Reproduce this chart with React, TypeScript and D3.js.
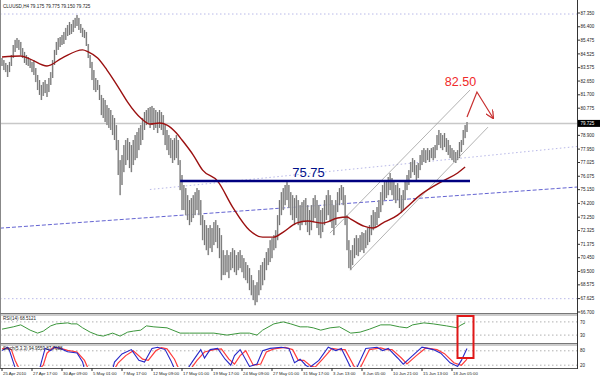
import React from 'react';
import * as d3 from 'd3';

// ---- DATA ----
const HIGHS = [
  84.24, 84.10, 83.90, 83.76, 83.97, 84.45, 85.14, 85.49, 85.62, 85.49,
  85.35, 84.93, 84.66, 84.45, 84.31, 84.10, 83.97, 84.10, 83.55, 83.07,
  82.72, 82.38, 82.58, 82.72, 82.45, 82.86, 83.27, 84.10, 84.80, 85.35,
  85.62, 85.69, 85.83, 86.04, 86.32, 86.52, 86.73, 86.59, 86.87, 87.01,
  87.21, 87.01, 86.59, 86.32, 86.18, 86.04, 85.21, 84.45, 83.97, 83.41,
  82.86, 82.72, 82.38, 81.69, 81.48, 81.34, 80.99, 80.79, 80.65, 80.30,
  80.10, 79.61, 78.58, 77.19, 77.54, 78.23, 78.58, 78.71, 78.44, 78.23,
  78.58, 78.92, 79.13, 79.41, 79.61, 80.10, 80.51, 80.65, 80.79, 80.86,
  80.93, 80.79, 80.65, 80.51, 80.65, 80.51, 80.30, 79.61, 79.27, 78.92,
  78.71, 78.58, 78.71, 78.92, 78.58, 77.19, 76.16, 75.47, 75.26, 74.77,
  74.43, 74.57, 74.77, 74.98, 75.26, 75.12, 74.43, 73.39, 73.05, 72.70,
  72.50, 72.70, 72.50, 72.91, 73.05, 72.70, 72.50, 72.01, 70.97, 70.63,
  70.97, 70.63, 70.84, 71.11, 70.97, 70.63, 70.84, 70.97, 70.63, 70.42,
  70.15, 69.94, 69.73, 69.25, 68.90, 68.55, 68.76, 69.59, 69.94, 70.15,
  70.42, 70.84, 71.11, 71.66, 71.80, 72.01, 72.35, 73.39, 74.43, 74.98,
  75.26, 75.47, 75.67, 75.47, 74.98, 74.77, 74.57, 74.77, 74.43, 74.08,
  74.29, 74.43, 74.57, 74.08, 73.74, 74.08, 74.57, 74.77, 74.43, 74.08,
  73.74, 73.88, 74.43, 74.77, 75.12, 74.77, 74.43, 74.08, 74.43, 74.98,
  75.26, 75.47, 75.33, 74.77, 73.39, 71.66, 70.97, 71.32, 71.80, 72.01,
  71.80, 72.01, 72.22, 72.15, 72.35, 72.50, 72.70, 73.39, 73.74, 73.60,
  73.95, 74.43, 74.98, 75.47, 75.67, 75.81, 76.02, 76.30, 75.95, 75.67,
  75.47, 75.60, 75.26, 74.77, 75.12, 75.81, 76.16, 76.50, 77.06, 77.33,
  77.19, 76.85, 76.99, 77.54, 77.88, 78.02, 77.88, 78.02, 77.88, 78.02,
  78.09, 78.23, 78.92, 79.27, 79.06, 78.92, 79.06, 78.71, 78.58, 78.23,
  78.02, 77.88, 77.75, 77.88, 78.44, 78.58, 79.27, 79.61, 79.82,
];
const LOWS = [
  83.69, 83.41, 83.27, 82.93, 83.27, 83.69, 84.24, 84.66, 84.93, 84.80,
  84.45, 84.24, 83.90, 83.76, 83.69, 83.55, 83.27, 83.07, 82.58, 82.03,
  81.69, 81.34, 81.62, 81.82, 81.55, 81.89, 82.38, 82.86, 83.76, 84.45,
  84.80, 85.00, 85.14, 85.21, 85.49, 85.76, 85.83, 85.90, 86.04, 86.32,
  86.45, 86.18, 85.97, 85.69, 85.62, 85.07, 84.24, 83.55, 82.72, 82.03,
  81.89, 82.03, 81.34, 80.30, 80.10, 79.82, 79.61, 79.41, 79.27, 78.92,
  78.58, 77.88, 76.16, 74.77, 75.47, 76.36, 76.85, 77.19, 76.64, 76.36,
  76.85, 77.19, 77.33, 77.88, 78.23, 78.58, 79.27, 79.61, 79.68, 79.41,
  79.61, 79.27, 79.41, 79.06, 79.41, 79.27, 78.92, 78.23, 77.88, 77.54,
  77.33, 76.99, 77.19, 77.33, 76.85, 75.12, 73.74, 73.74, 73.39, 73.05,
  72.70, 72.91, 73.19, 73.39, 73.74, 73.39, 72.70, 71.66, 71.32, 70.97,
  70.63, 71.11, 70.84, 71.32, 71.53, 71.11, 70.42, 68.90, 69.25, 69.25,
  69.45, 69.04, 69.59, 69.73, 69.45, 69.25, 69.59, 69.73, 69.45, 69.04,
  68.90, 68.69, 68.21, 67.86, 67.52, 67.17, 67.38, 67.86, 68.21, 68.55,
  68.90, 69.59, 69.94, 70.15, 70.42, 70.97, 71.11, 71.66, 72.70, 73.39,
  73.74, 74.08, 74.43, 73.88, 73.39, 73.05, 72.70, 73.19, 72.70, 72.35,
  72.70, 72.91, 72.70, 72.22, 72.01, 72.35, 72.91, 73.19, 72.50, 72.01,
  71.80, 72.22, 72.70, 73.05, 73.39, 72.91, 72.50, 72.01, 72.70, 73.60,
  74.08, 74.43, 74.08, 72.70, 70.97, 69.73, 69.59, 69.94, 70.42, 70.63,
  70.56, 70.84, 70.97, 70.77, 71.11, 71.32, 71.53, 72.01, 72.35, 72.50,
  72.70, 73.19, 73.60, 74.08, 74.43, 74.57, 74.77, 75.12, 74.77, 74.43,
  74.22, 74.43, 73.88, 73.53, 73.74, 74.43, 75.12, 75.47, 75.95, 76.36,
  76.16, 75.81, 75.95, 76.50, 76.85, 77.06, 76.99, 77.19, 77.06, 77.33,
  77.19, 77.33, 77.88, 78.23, 78.02, 77.88, 78.09, 77.75, 77.54, 77.33,
  77.19, 77.06, 76.99, 77.19, 77.33, 77.75, 78.23, 78.71, 79.13,
];

// moving average: [bar index, price]
const MA_POINTS: [number, number][] = [
  [0, 84.31], [10, 84.38], [15, 84.17], [24, 83.69], [32, 84.24], [43, 84.80],
  [46, 84.66], [51, 84.24], [56, 83.41], [63, 82.03], [67, 81.20], [74, 80.10],
  [79, 79.68], [84, 79.75], [88, 79.61], [93, 79.06], [96, 78.58], [102, 77.54],
  [107, 76.5], [115, 75.74], [123, 73.95], [132, 72.35], [139, 71.87], [145, 71.87],
  [150, 72.22], [157, 72.84], [163, 72.98], [171, 72.84], [179, 73.19], [184, 73.26],
  [186, 73.12], [193, 72.63], [198, 72.5], [203, 72.84], [211, 73.39], [216, 73.95],
  [223, 74.77], [235, 75.74], [243, 76.3], [247, 76.71],
];

const RSI_POINTS: [number, number][] = [
  [0, 48], [6, 55], [10, 61], [15, 45], [19, 36], [22, 42], [26, 58], [29, 64],
  [35, 67], [37, 64], [40, 64], [43, 52], [47, 39], [51, 30], [54, 27], [59, 36],
  [63, 27], [67, 39], [70, 42], [74, 45], [77, 58], [81, 55], [88, 52], [95, 36],
  [100, 36], [106, 36], [113, 36], [120, 30], [127, 36], [132, 36], [136, 30],
  [139, 45], [145, 64], [150, 70], [154, 64], [159, 55], [163, 55], [166, 52],
  [170, 45], [175, 52], [180, 55], [186, 36], [191, 39], [196, 48], [202, 61],
  [207, 61], [212, 55], [216, 52], [219, 61], [225, 67], [230, 64], [237, 58],
  [243, 52], [244, 58], [247, 67],
];

const STOCH_K: [number, number][] = [
  [0, 81], [3, 95], [4, 81], [6, 33], [7, 10], [8, 2], [20, 2], [21, 33], [23, 90],
  [26, 81], [28, 95], [31, 90], [35, 76], [40, 71], [43, 33], [44, 2], [59, 2],
  [60, 33], [64, 67], [69, 85], [73, 40], [76, 33], [80, 90], [83, 95], [87, 85],
  [90, 40], [92, 5], [99, 5], [102, 40], [106, 85], [108, 50], [111, 85], [115, 90],
  [119, 45], [122, 20], [124, 60], [127, 85], [132, 15], [136, 25], [139, 80],
  [143, 90], [149, 95], [153, 90], [156, 30], [159, 45], [162, 20], [164, 10],
  [169, 40], [174, 95], [178, 81], [181, 90], [186, 10], [189, 5], [194, 90],
  [200, 95], [203, 81], [206, 90], [211, 50], [214, 24], [219, 60], [224, 95],
  [230, 85], [234, 70], [239, 30], [243, 15], [245, 40], [248, 90],
];
const STOCH_D: [number, number][] = [
  [0, 88], [3, 92], [5, 85], [7, 40], [9, 8], [20, 5], [22, 20], [24, 70], [27, 92],
  [30, 93], [35, 82], [40, 75], [44, 40], [46, 5], [60, 5], [62, 30], [66, 60],
  [70, 80], [75, 45], [78, 40], [82, 80], [85, 93], [88, 88], [92, 45], [94, 10],
  [101, 8], [104, 40], [108, 75], [113, 85], [117, 88], [121, 45], [124, 25],
  [127, 60], [130, 80], [134, 20], [138, 25], [141, 75], [145, 88], [151, 94],
  [155, 85], [158, 40], [161, 40], [165, 15], [167, 12], [171, 45], [176, 90],
  [180, 85], [183, 85], [188, 12], [191, 8], [196, 85], [202, 92], [205, 85],
  [208, 85], [213, 50], [216, 25], [221, 60], [226, 92], [232, 85], [236, 68],
  [241, 30], [245, 20], [248, 45],
];

const PRICE_TICKS = [
  87.35, 86.4, 85.475, 84.525, 83.575, 82.65, 81.7, 80.775, 79.825, 78.9, 77.95,
  77.025, 76.075, 75.15, 74.2, 73.25, 72.325, 71.375, 70.45, 69.5, 68.575, 67.625, 66.7,
];
const TIME_LABELS = [
  '25 Apr 2010', '27 Apr 17:00', '30 Apr 09:00', '5 May 01:00', '7 May 17:00',
  '12 May 09:00', '17 May 01:00', '19 May 17:00', '24 May 09:00', '27 May 01:00',
  '31 May 17:00', '3 Jun 13:00', '8 Jun 05:00', '10 Jun 21:00', '15 Jun 13:00', '18 Jun 05:00',
];
const TIME_LABEL_STEP = 16;

const SUPPORT_LEVEL = 75.75;
const SUPPORT_START = 95;
const SUPPORT_END = 249.6;
const TARGET_LABEL = '82.50';
const CURRENT_PRICE = 79.725;
const HIGH_DOTTED = 87.28;
const LOW_DOTTED = 67.62;
const DASHED_TREND: [number, number][] = [[-1.07, 72.49], [306.7, 75.33]];
const DOTTED_TREND: [number, number][] = [[78.9, 75.16], [306.7, 78.13]];
const CHANNEL_UPPER: [number, number][] = [[174.9, 72.15], [249.6, 82.03]];
const CHANNEL_LOWER: [number, number][] = [[185.6, 69.59], [259.2, 79.47]];
const ARROW_PATH: [number, number][] = [[248, 80.17], [253.3, 81.89], [261.9, 80.10]];
const RSI_LEVELS = [70, 30];
const STOCH_LEVELS = [80, 20];
const HEADER = 'CLUUSD,H4  79.175 79.775 79.150 79.725';

export default function App() {
  const AXIS_X = 577;
  const x = d3.scaleLinear().domain([0, 248]).range([2, 467]);
  const y = d3.scaleLinear().domain([66.7, 87.35]).range([312, 13]);
  const yR = d3.scaleLinear().domain([0, 100]).range([345, 312]);
  const yS = d3.scaleLinear().domain([0, 100]).range([370, 346]);

  const maLine = d3.line<[number, number]>().x(d => x(d[0])).y(d => y(d[1])).curve(d3.curveMonotoneX);
  const priceLine = d3.line<[number, number]>().x(d => x(d[0])).y(d => y(d[1]));
  const rsiLine = d3.line<[number, number]>().x(d => x(d[0])).y(d => yR(d[1]));
  const stLine = d3.line<[number, number]>().x(d => x(d[0])).y(d => yS(d[1]));
  const fmt = d3.format('.3f');
  const font = 'Liberation Sans, Arial, sans-serif';

  return (
    <svg width={600} height={376} style={{ position: 'absolute', left: 0, top: 0, background: '#fff' }}
      fontFamily={font}>
      <defs>
        <clipPath id="cm"><rect x={0} y={0} width={AXIS_X} height={313} /></clipPath>
        <clipPath id="cr"><rect x={0} y={315} width={AXIS_X} height={28} /></clipPath>
        <clipPath id="cs"><rect x={0} y={345} width={AXIS_X} height={22} /></clipPath>
        <marker id="arr" viewBox="0 0 10 10" refX={9} refY={5} markerWidth={7} markerHeight={7} orient="auto">
          <path d="M0,0 L10,5 L0,10" fill="none" stroke="#c83030" strokeWidth={1.5} />
        </marker>
      </defs>
      <rect x={0} y={0} width={600} height={376} fill="#fff" />

      <g clipPath="url(#cm)">
        <line x1={0} x2={AXIS_X} y1={y(HIGH_DOTTED)} y2={y(HIGH_DOTTED)} stroke="#b8b8e8" strokeDasharray="1.5,2.5" />
        <line x1={0} x2={AXIS_X} y1={y(LOW_DOTTED)} y2={y(LOW_DOTTED)} stroke="#b8b8e8" strokeDasharray="1.5,2.5" />
        <path d={priceLine(DOTTED_TREND) || ''} stroke="#b8b8e8" fill="none" strokeDasharray="1.5,2.5" />
        <line x1={0} x2={AXIS_X} y1={y(CURRENT_PRICE)} y2={y(CURRENT_PRICE)} stroke="#c8c8c8" strokeWidth={1.5} />
        <path d={priceLine(DASHED_TREND) || ''} stroke="#6464d2" fill="none" strokeDasharray="4,2" strokeWidth={1} />
        {HIGHS.map((h, i) => (
          <g key={i}>
            <rect x={x(i) - 0.9} y={y(h)} width={1.8} height={Math.max(1, y(LOWS[i]) - y(h))} fill="#c4c4c4" />
            <line x1={x(i)} x2={x(i)} y1={y(h)} y2={y(LOWS[i])} stroke="#555" strokeWidth={0.7} />
          </g>
        ))}
        <path d={priceLine(CHANNEL_UPPER) || ''} stroke="#a0a0a0" fill="none" strokeWidth={0.8} />
        <path d={priceLine(CHANNEL_LOWER) || ''} stroke="#a0a0a0" fill="none" strokeWidth={0.8} />
        <path d={maLine(MA_POINTS) || ''} stroke="#9b1010" fill="none" strokeWidth={1.4} />
        <line x1={x(SUPPORT_START)} x2={x(SUPPORT_END)} y1={y(SUPPORT_LEVEL)} y2={y(SUPPORT_LEVEL)} stroke="#000080" strokeWidth={2.4} />
        <text x={x(163.5)} y={y(SUPPORT_LEVEL) - 4} fontSize={13} fill="#00108a" textAnchor="middle">{SUPPORT_LEVEL.toFixed(2)}</text>
        <path d={priceLine(ARROW_PATH) || ''} stroke="#c83030" fill="none" strokeWidth={1.2} markerEnd="url(#arr)" />
        <text x={x(244.5)} y={y(82.3)} fontSize={12.5} fill="#f02a2a" textAnchor="middle">{TARGET_LABEL}</text>
      </g>

      <text x={3} y={8} fontSize={4.6} fill="#222">{HEADER}</text>

      <g clipPath="url(#cr)">
        {RSI_LEVELS.map(l => (
          <line key={l} x1={0} x2={AXIS_X} y1={yR(l)} y2={yR(l)} stroke="#b0b0b0" strokeDasharray="1.5,2.5" />
        ))}
        <path d={rsiLine(RSI_POINTS) || ''} stroke="#3c963c" fill="none" strokeWidth={1} />
      </g>
      <text x={3} y={320} fontSize={4.5} fill="#222">RSI(14) 68.5121</text>

      <g clipPath="url(#cs)">
        {STOCH_LEVELS.map(l => (
          <line key={l} x1={0} x2={AXIS_X} y1={yS(l)} y2={yS(l)} stroke="#b0b0b0" strokeDasharray="1.5,2.5" />
        ))}
        <path d={stLine(STOCH_D) || ''} stroke="#ff3c3c" fill="none" strokeWidth={1.2} />
        <path d={stLine(STOCH_K) || ''} stroke="#2828c8" fill="none" strokeWidth={1.1} />
      </g>
      <text x={3} y={350} fontSize={4.5} fill="#222">Stoch(5,3,3) 94.9559 87.7638</text>

      <line x1={0.5} x2={0.5} y1={0} y2={368} stroke="#888" />
      <line x1={0} x2={AXIS_X} y1={313.5} y2={313.5} stroke="#777" />
      <line x1={0} x2={AXIS_X} y1={315} y2={315} stroke="#999" />
      <line x1={0} x2={AXIS_X} y1={343.5} y2={343.5} stroke="#777" />
      <line x1={0} x2={AXIS_X} y1={345} y2={345} stroke="#999" />
      <line x1={0} x2={AXIS_X} y1={368.5} y2={368.5} stroke="#555" />
      <line x1={AXIS_X + 0.5} x2={AXIS_X + 0.5} y1={0} y2={369} stroke="#333" />

      {PRICE_TICKS.map(p => (
        <g key={p}>
          <line x1={AXIS_X} x2={AXIS_X + 3} y1={y(p)} y2={y(p)} stroke="#333" />
          <text x={AXIS_X + 3.5} y={y(p) + 1.6} fontSize={4.5} fill="#222">{fmt(p)}</text>
        </g>
      ))}
      <rect x={AXIS_X + 1} y={y(CURRENT_PRICE) - 3.5} width={22} height={7} fill="#000" />
      <text x={AXIS_X + 3.5} y={y(CURRENT_PRICE) + 1.6} fontSize={4.5} fill="#fff">{fmt(CURRENT_PRICE)}</text>

      <text x={AXIS_X + 3} y={yR(RSI_LEVELS[0]) + 1.6} fontSize={4.5} fill="#222">{RSI_LEVELS[0]}</text>
      <text x={AXIS_X + 3} y={yR(RSI_LEVELS[1]) + 1.6} fontSize={4.5} fill="#222">{RSI_LEVELS[1]}</text>
      <text x={AXIS_X + 3} y={yS(STOCH_LEVELS[0]) + 1.6} fontSize={4.5} fill="#222">{STOCH_LEVELS[0]}</text>
      <text x={AXIS_X + 3} y={yS(STOCH_LEVELS[1]) + 1.6} fontSize={4.5} fill="#222">{STOCH_LEVELS[1]}</text>

      {TIME_LABELS.map((t, k) => (
        <g key={t}>
          <line x1={x(k * TIME_LABEL_STEP)} x2={x(k * TIME_LABEL_STEP)} y1={368} y2={371} stroke="#333" />
          <text x={x(k * TIME_LABEL_STEP) + 1} y={374.5} fontSize={4.3} fill="#222">{t}</text>
        </g>
      ))}

      <rect x={457.5} y={316} width={16} height={42} fill="none" stroke="#e01818" strokeWidth={2} />
    </svg>
  );
}
